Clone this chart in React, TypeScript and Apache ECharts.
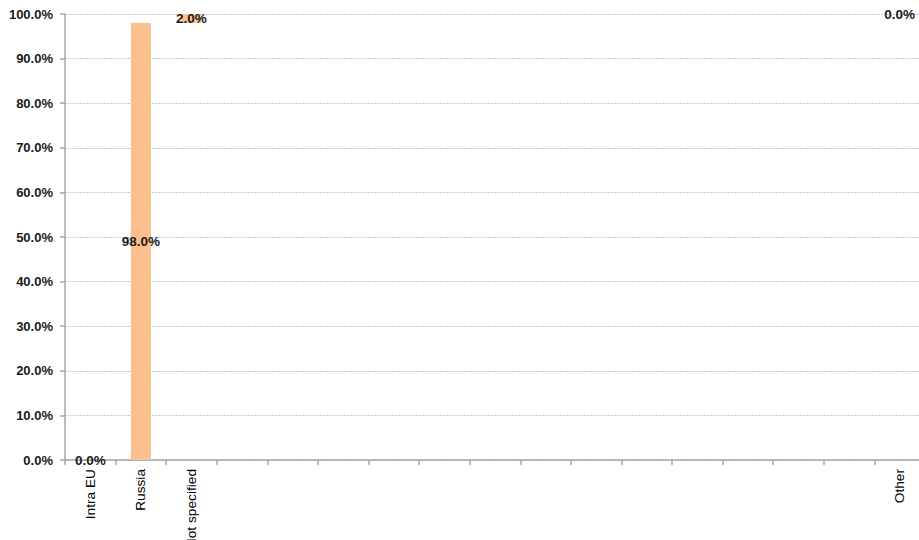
import React, { useEffect, useRef } from "react";
import * as echarts from "echarts";

const categories: string[] = [
  "Intra EU", "Russia", "Not specified",
  "", "", "", "", "", "", "", "", "", "", "", "", "",
  "Other",
];
// waterfall: invisible base + visible share
const baseValues: (number | string)[] = [0, 0, 98, "-", "-", "-", "-", "-", "-", "-", "-", "-", "-", "-", "-", "-", 100];
const shareValues: (number | string)[] = [0, 98, 2, "-", "-", "-", "-", "-", "-", "-", "-", "-", "-", "-", "-", "-", 0];
const yTicks = { min: 0, max: 100, interval: 10 };

const FONT = "Liberation Sans, Arial, sans-serif";

export default function App() {
  const ref = useRef<HTMLDivElement>(null);
  useEffect(() => {
    if (!ref.current) return;
    const chart = echarts.init(ref.current, null, { renderer: "svg" });
    chart.setOption({
      animation: false,
      backgroundColor: "#ffffff",
      grid: {
        left: 65,
        width: 860,
        top: 14,
        height: 446,
        containLabel: false,
        outerBoundsMode: "none",
      },
      xAxis: {
        type: "category",
        data: categories,
        axisLine: { show: true, lineStyle: { color: "#a6a6a6", width: 1.5 } },
        axisTick: { show: true, length: 5, lineStyle: { color: "#a6a6a6", width: 1.5 } },
        axisLabel: {
          rotate: 90,
          interval: 0,
          margin: 9,
          color: "#000000",
          fontFamily: FONT,
          fontSize: 13.7,
        },
        splitLine: { show: false },
      },
      yAxis: {
        type: "value",
        min: yTicks.min,
        max: yTicks.max,
        interval: yTicks.interval,
        axisLine: { show: true, lineStyle: { color: "#a6a6a6", width: 1.5 } },
        axisTick: { show: true, length: 5, lineStyle: { color: "#a6a6a6", width: 1.5 } },
        axisLabel: {
          margin: 12,
          color: "#1a1a1a",
          fontWeight: "bold",
          fontFamily: FONT,
          fontSize: 13,
          formatter: (v: number) => v.toFixed(1) + "%",
        },
        splitLine: { show: true, lineStyle: { color: "#bccde8", type: [2, 1], width: 1 } },
      },
      series: [
        {
          type: "bar",
          stack: "w",
          data: baseValues,
          barWidth: 20,
          itemStyle: { color: "transparent" },
          silent: true,
        },
        {
          type: "bar",
          stack: "w",
          data: shareValues,
          barWidth: 20,
          itemStyle: { color: "#fbc08e" },
          label: {
            show: true,
            position: "inside",
            color: "#1a1a1a",
            fontWeight: "bold",
            fontFamily: FONT,
            fontSize: 13.5,
            formatter: (p: any) => Number(p.value).toFixed(1) + "%",
          },
        },
      ],
    });
    return () => chart.dispose();
  }, []);
  return (
    <div
      ref={ref}
      style={{ position: "absolute", left: 0, top: 0, width: 919, height: 540 }}
    />
  );
}
